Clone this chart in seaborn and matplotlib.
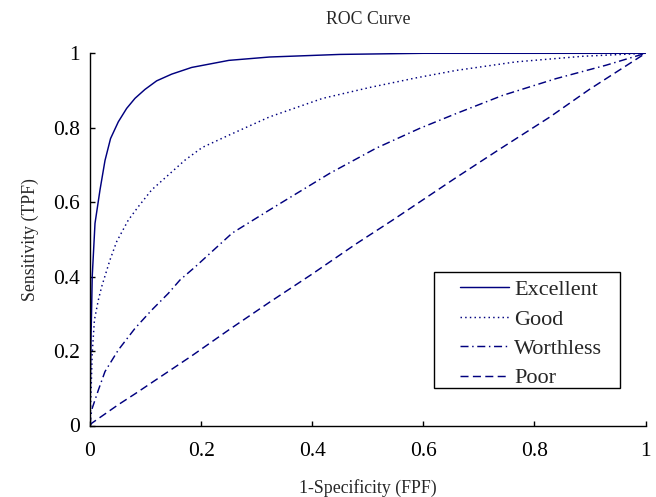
import matplotlib
matplotlib.use("Agg")
import matplotlib.pyplot as plt
from matplotlib.patches import Rectangle
import seaborn as sns
import pandas as pd

# Data
excellent_fpf = [0.0, 0.001, 0.002, 0.003, 0.004, 0.009, 0.018, 0.027, 0.037, 0.051,
                 0.066, 0.081, 0.099, 0.12, 0.147, 0.183, 0.25, 0.323, 0.45, 0.6, 1.0]
excellent_tpf = [0.0, 0.14, 0.25, 0.32, 0.40, 0.543, 0.633, 0.712, 0.771, 0.816,
                 0.852, 0.879, 0.903, 0.926, 0.944, 0.962, 0.981, 0.99, 0.997, 1.0, 1.0]

good_fpf = [0.0, 0.002, 0.004, 0.008, 0.015, 0.021, 0.036, 0.048, 0.069, 0.087, 0.111,
            0.141, 0.171, 0.202, 0.247, 0.323, 0.419, 0.503, 0.587, 0.659, 0.767, 0.887, 1.0]
good_tpf = [0.0, 0.095, 0.194, 0.284, 0.337, 0.373, 0.445, 0.494, 0.552, 0.588, 0.633,
            0.673, 0.713, 0.747, 0.778, 0.829, 0.879, 0.908, 0.934, 0.954, 0.977, 0.992, 1.0]

worthless_fpf = [0.0, 0.003, 0.015, 0.027, 0.051, 0.081, 0.111, 0.141, 0.162, 0.19, 0.256,
                 0.323, 0.431, 0.515, 0.593, 0.659, 0.743, 0.839, 0.929, 1.0]
worthless_tpf = [0.0, 0.042, 0.095, 0.145, 0.203, 0.261, 0.31, 0.355, 0.391, 0.427, 0.517,
                 0.579, 0.677, 0.745, 0.798, 0.838, 0.887, 0.932, 0.968, 1.0]

poor_fpf = [0.0, 0.003, 0.027, 0.051, 0.081, 0.111, 0.147, 0.183, 0.25, 0.323, 0.4,
            0.479, 0.545, 0.605, 0.659, 0.737, 0.827, 0.899, 1.0]
poor_tpf = [0.0, 0.006, 0.031, 0.056, 0.085, 0.115, 0.151, 0.187, 0.257, 0.331, 0.407,
            0.488, 0.552, 0.612, 0.666, 0.742, 0.828, 0.903, 1.0]

series_names = ["Excellent", "Good", "Worthless", "Poor"]
ticks = [0, 0.2, 0.4, 0.6, 0.8, 1]
tick_labels = ["0", "0.2", "0.4", "0.6", "0.8", "1"]

sns.set_style("white")
plt.rcParams["font.family"] = ["Liberation Serif", "DejaVu Serif"]

fig = plt.figure(figsize=(6.56, 4.97), dpi=100)
ax = fig.add_axes([90 / 656, (497 - 425.5) / 497, 555.5 / 656, 372.2 / 497])

navy = "#00007f"
data = {
    "Excellent": (excellent_fpf, excellent_tpf, "-"),
    "Good": (good_fpf, good_tpf, (0, (1.0, 2.2))),
    "Worthless": (worthless_fpf, worthless_tpf, (0, (5.5, 2.5, 1.0, 2.5))),
    "Poor": (poor_fpf, poor_tpf, (0, (5.5, 3.0))),
}
for name in series_names:
    fx, fy, ls = data[name]
    df = pd.DataFrame({"fpf": fx, "tpf": fy})
    sns.lineplot(data=df, x="fpf", y="tpf", ax=ax, color=navy, linestyle=ls,
                 linewidth=1.05, label=name, estimator=None, sort=False)

ax.set_xlim(0, 1)
ax.set_ylim(0, 1)
ax.set_xticks(ticks)
ax.set_xticklabels(tick_labels)
ax.set_yticks(ticks)
ax.set_yticklabels(tick_labels)
ax.tick_params(direction="in", length=3.6, width=1, labelsize=15.5,
               bottom=True, left=True, top=False, right=False, colors="black")
ax.tick_params(axis="x", pad=12)
ax.tick_params(axis="y", pad=7)
for s in ["top", "right"]:
    ax.spines[s].set_visible(False)
for s in ["left", "bottom"]:
    ax.spines[s].set_color("black")
    ax.spines[s].set_linewidth(1.0)

ax.set_xlabel("1-Specificity (FPF)", fontsize=12.8, labelpad=13)
ax.set_ylabel("Sensitivity (TPF)", fontsize=12.8, labelpad=10)
ax.set_title("ROC Curve", fontsize=12.8, pad=21)

leg = ax.legend(loc="upper left", bbox_to_anchor=(0.666, 0.392), fontsize=16,
                frameon=False, handlelength=2.2, handletextpad=0.25,
                labelspacing=0.4, borderpad=0, borderaxespad=0)

# legend frame (square, black)
x0 = (434 - 90) / 555.5
x1 = (620 - 90) / 555.5
y0 = (425.5 - 388) / 372.2
y1 = (425.5 - 272) / 372.2
ax.add_patch(Rectangle((x0, y0), x1 - x0, y1 - y0, transform=ax.transAxes,
                       facecolor="white", edgecolor="black", linewidth=1.0,
                       zorder=4.5, clip_on=False))
leg.set_zorder(5)

fig.savefig("out.png", dpi=100)
